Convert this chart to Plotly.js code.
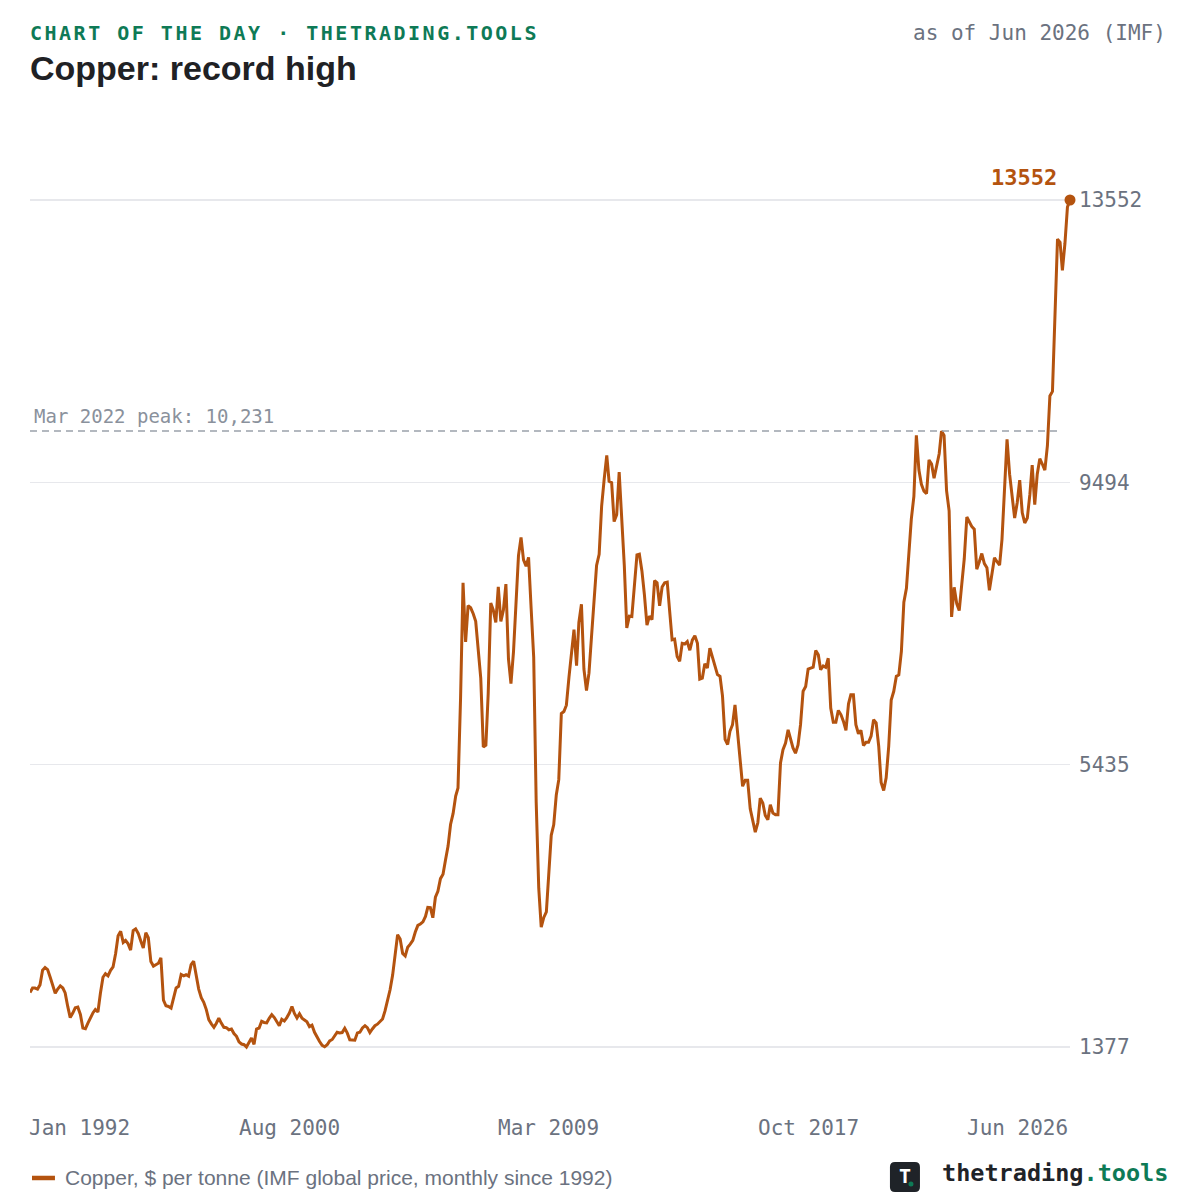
<!DOCTYPE html>
<html>
<head>
<meta charset="utf-8">
<script src="https://cdn.plot.ly/plotly-3.0.1.min.js"></script>
<style>
  html, body { margin: 0; padding: 0; background: #ffffff; }
  #chart { width: 1200px; height: 1200px; }
</style>
</head>
<body>
<div id="chart"></div>
<script>
// ---- Data ----
const startYear = 1992;
const startMonth = 1;
// Copper, $ per tonne, monthly from Jan 1992 to Jun 2026
const copperPrice = [
  2160, 2225, 2225, 2210, 2270, 2480, 2520, 2490, 2380, 2260, 2150, 2210, // 1992
  2255, 2225, 2155, 1960, 1800, 1865, 1940, 1950, 1845, 1650, 1640, 1720, // 1993
  1800, 1870, 1915, 1880, 2150, 2380, 2430, 2400, 2480, 2530, 2720, 2975, // 1994
  3040, 2880, 2910, 2860, 2770, 3050, 3075, 3010, 2900, 2800, 3020, 2950, // 1995
  2605, 2540, 2560, 2580, 2660, 2050, 1970, 1960, 1935, 2080, 2225, 2250, // 1996
  2420, 2400, 2415, 2395, 2560, 2610, 2400, 2210, 2085, 2020, 1915, 1770, // 1997
  1710, 1660, 1715, 1790, 1720, 1660, 1655, 1625, 1636, 1570, 1530, 1450, // 1998
  1420, 1410, 1377, 1455, 1506, 1415, 1636, 1650, 1746, 1730, 1725, 1790, // 1999
  1841, 1800, 1745, 1683, 1775, 1750, 1800, 1865, 1960, 1860, 1795, 1855, // 2000
  1790, 1762, 1740, 1670, 1690, 1588, 1510, 1455, 1400, 1380, 1410, 1465, // 2001
  1485, 1545, 1590, 1580, 1585, 1645, 1580, 1480, 1475, 1475, 1580, 1590, // 2002
  1650, 1683, 1655, 1585, 1636, 1683, 1705, 1750, 1780, 1895, 2040, 2200, // 2003
  2410, 2740, 2990, 2930, 2720, 2685, 2810, 2855, 2910, 3030, 3125, 3145, // 2004
  3175, 3254, 3383, 3380, 3235, 3530, 3615, 3797, 3860, 4065, 4265, 4575, // 2005
  4735, 4985, 5100, 6390, 8050, 7200, 7720, 7690, 7605, 7495, 7030, 6680, // 2006
  5690, 5715, 6455, 7760, 7660, 7480, 7990, 7495, 7660, 8030, 6955, 6600, // 2007
  7060, 7890, 8440, 8700, 8380, 8290, 8415, 7680, 6980, 4900, 3660, 3100, // 2008
  3240, 3320, 3800, 4420, 4570, 5000, 5220, 6170, 6200, 6290, 6690, 7000, // 2009
  7375, 6860, 7480, 7740, 6810, 6500, 6750, 7280, 7760, 8300, 8460, 9150, // 2010
  9540, 9880, 9510, 9490, 8930, 9030, 9640, 9040, 8300, 7400, 7570, 7565, // 2011
  8010, 8450, 8460, 8220, 7880, 7440, 7570, 7520, 8080, 8050, 7720, 7990, // 2012
  8050, 8060, 7660, 7230, 7240, 6990, 6920, 7180, 7170, 7205, 7080, 7225, // 2013
  7290, 7180, 6665, 6680, 6885, 6825, 7110, 6990, 6860, 6730, 6705, 6420, // 2014
  5800, 5725, 5915, 6010, 6295, 5890, 5505, 5125, 5210, 5210, 4800, 4620, // 2015
  4465, 4600, 4955, 4885, 4705, 4645, 4860, 4740, 4717, 4717, 5460, 5650, // 2016
  5745, 5935, 5820, 5675, 5600, 5720, 6010, 6490, 6560, 6808, 6823, 6837, // 2017
  7077, 7015, 6800, 6855, 6835, 6965, 6250, 6045, 6045, 6215, 6155, 6060, // 2018
  5930, 6310, 6440, 6440, 6010, 5880, 5930, 5710, 5756, 5756, 5845, 6080, // 2019
  6035, 5700, 5180, 5065, 5245, 5700, 6365, 6490, 6705, 6725, 7065, 7770, // 2020
  7970, 8495, 8965, 9290, 10170, 9670, 9465, 9365, 9330, 9815, 9757, 9552, // 2021
  9757, 9905, 10231, 10167, 9375, 9085, 7560, 7985, 7750, 7650, 8030, 8395, // 2022
  8995, 8930, 8860, 8820, 8245, 8352, 8470, 8325, 8265, 7942, 8205, 8410, // 2023
  8352, 8305, 8675, 9435, 10110, 9610, 9320, 8980, 9200, 9525, 9055, 8910, // 2024
  8980, 9320, 9740, 9172, 9610, 9833, 9757, 9669, 10020, 10735, 10800, 11950, // 2025
  12990, 12945, 12540, 12930, 13450, 13552 // 2026
];
const xTickDates = ['1992-01-01', '2000-08-01', '2009-03-01', '2017-10-01', '2026-06-01'];
const xTickLabels = ['Jan 1992', 'Aug 2000', 'Mar 2009', 'Oct 2017', 'Jun 2026'];
const yTickValues = [1377, 5435, 9494, 13552];
const yTickLabels = ['1377', '5435', '9494', '13552'];
const peakValue = 10231;
const peakLabel = 'Mar 2022 peak: 10,231';
const seriesName = 'Copper, $ per tonne (IMF global price, monthly since 1992)';
const headerText = 'CHART OF THE DAY · THETRADING.TOOLS';
const asOfText = 'as of Jun 2026 (IMF)';
const titleText = 'Copper: record high';

// ---- Build ----
const ORANGE = '#b4530f';
const GREEN = '#0e7a56';
const GRAY = '#6b7280';
const MONO = 'DejaVu Sans Mono, monospace';
const SANS = 'Liberation Sans, Arial, sans-serif';

const dates = copperPrice.map((_, i) => {
  const mi = startMonth - 1 + i;
  const y = startYear + Math.floor(mi / 12);
  const m = (mi % 12) + 1;
  return y + '-' + String(m).padStart(2, '0') + '-01';
});
const lastDate = dates[dates.length - 1];
const lastValue = copperPrice[copperPrice.length - 1];

const traces = [
  {
    x: dates, y: copperPrice, type: 'scatter', mode: 'lines',
    name: seriesName,
    line: { color: ORANGE, width: 3 },
    hoverinfo: 'skip', showlegend: false
  },
  {
    x: [lastDate], y: [lastValue], type: 'scatter', mode: 'markers',
    marker: { color: ORANGE, size: 11 },
    cliponaxis: false, showlegend: false, hoverinfo: 'skip'
  }
];

const annotations = [];
xTickDates.forEach((d, i) => {
  const first = i === 0, last = i === xTickDates.length - 1;
  annotations.push({
    xref: 'x', x: d, yref: 'paper', y: -0.0342, yanchor: 'middle',
    xanchor: first ? 'left' : (last ? 'right' : 'center'),
    xshift: first ? -3 : 0,
    text: xTickLabels[i], showarrow: false,
    font: { family: MONO, size: 21, color: GRAY }
  });
});
annotations.push({
  xref: 'x', x: lastDate, yref: 'y', y: lastValue,
  xanchor: 'right', yanchor: 'middle', xshift: -11, yshift: 22,
  text: String(lastValue), showarrow: false,
  font: { family: MONO, size: 22, color: ORANGE, weight: 'bold' }
});
annotations.push({
  xref: 'paper', x: 0, yref: 'y', y: peakValue,
  xanchor: 'left', yanchor: 'middle', xshift: 2, yshift: 15,
  text: peakLabel, showarrow: false,
  font: { family: MONO, size: 19, color: '#8a919c' }
});
annotations.push({
  xref: 'paper', x: 0, yref: 'paper', y: 1.1005,
  xanchor: 'left', yanchor: 'middle', align: 'left', xshift: -2,
  text: headerText, showarrow: false,
  font: { family: MONO, size: 20, color: GREEN, weight: 'bold' }
});
annotations.push({
  xref: 'paper', x: 1.0942, yref: 'paper', y: 1.1005,
  xanchor: 'right', yanchor: 'middle',
  text: asOfText, showarrow: false,
  font: { family: MONO, size: 21, color: GRAY }
});
// legend text (legend sample line is a shape below)
annotations.push({
  xref: 'paper', x: 0.0317, yref: 'paper', y: -0.086,
  xanchor: 'left', yanchor: 'middle', align: 'left',
  text: seriesName, showarrow: false,
  font: { family: SANS, size: 21, color: GRAY }
});
// logo
annotations.push({
  xref: 'paper', x: 0.8413, yref: 'paper', y: -0.0839,
  xanchor: 'center', yanchor: 'middle',
  text: 'T', showarrow: false,
  font: { family: MONO, size: 20, color: '#ffffff', weight: 'bold' }
});
annotations.push({
  xref: 'paper', x: 1.0942, yref: 'paper', y: -0.0808,
  xanchor: 'right', yanchor: 'middle', xshift: 2,
  text: "thetrading<span style='color:" + GREEN + "'>.tools</span>", showarrow: false,
  font: { family: MONO, size: 23.5, color: '#1f2328', weight: 'bold' }
});

const shapes = [
  {
    type: 'line', xref: 'paper', x0: 0, x1: 0.992, yref: 'y', y0: peakValue, y1: peakValue,
    line: { color: '#9aa1ab', width: 1.6, dash: '7px,5px' }
  },
  {
    type: 'line', xref: 'paper', x0: 0.0019, x1: 0.024, yref: 'paper', y0: -0.086, y1: -0.086,
    line: { color: ORANGE, width: 4.5 }
  },
  {
    type: 'path', xref: 'paper', yref: 'paper', xsizemode: 'pixel', ysizemode: 'pixel',
    xanchor: 0.8413, yanchor: -0.085,
    path: 'M -10 -15 L 10 -15 Q 15 -15 15 -10 L 15 10 Q 15 15 10 15 L -10 15 Q -15 15 -15 10 L -15 -10 Q -15 -15 -10 -15 Z',
    fillcolor: '#1f2328', line: { width: 0 }
  },
  {
    type: 'circle', xref: 'paper', yref: 'paper', xsizemode: 'pixel', ysizemode: 'pixel',
    xanchor: 0.8413, yanchor: -0.085,
    x0: 3.5, x1: 8.5, y0: -4.5, y1: -9.5,
    fillcolor: GREEN, line: { width: 0 }
  }
];

const layout = {
  width: 1200, height: 1200,
  margin: { l: 30, r: 130, t: 130, b: 105, pad: 0 },
  paper_bgcolor: '#ffffff', plot_bgcolor: '#ffffff',
  title: {
    text: titleText, xref: 'container', x: 0.025, xanchor: 'left',
    yref: 'container', y: 0.9433, yanchor: 'middle',
    font: { family: SANS, size: 34, color: '#202124', weight: 'bold' }
  },
  showlegend: false,
  xaxis: {
    type: 'date', range: [dates[0], lastDate],
    showgrid: false, zeroline: false, showticklabels: false, ticks: '', showline: false
  },
  yaxis: {
    side: 'right', range: [687, 14558],
    tickmode: 'array', tickvals: yTickValues, ticktext: yTickLabels,
    showgrid: true, gridcolor: '#e7e8ec', gridwidth: 1.5,
    zeroline: false, ticks: '', showline: false, ticklabelstandoff: 8,
    tickfont: { family: MONO, size: 21, color: GRAY }
  },
  annotations: annotations,
  shapes: shapes
};

Plotly.newPlot('chart', traces, layout, { displayModeBar: false, staticPlot: true }).then(() => {
  document.querySelectorAll('.annotation-text').forEach(el => {
    if (el.textContent.indexOf('CHART OF THE DAY') === 0) {
      el.style.letterSpacing = '2.5px';
    }
  });
});
</script>
</body>
</html>
